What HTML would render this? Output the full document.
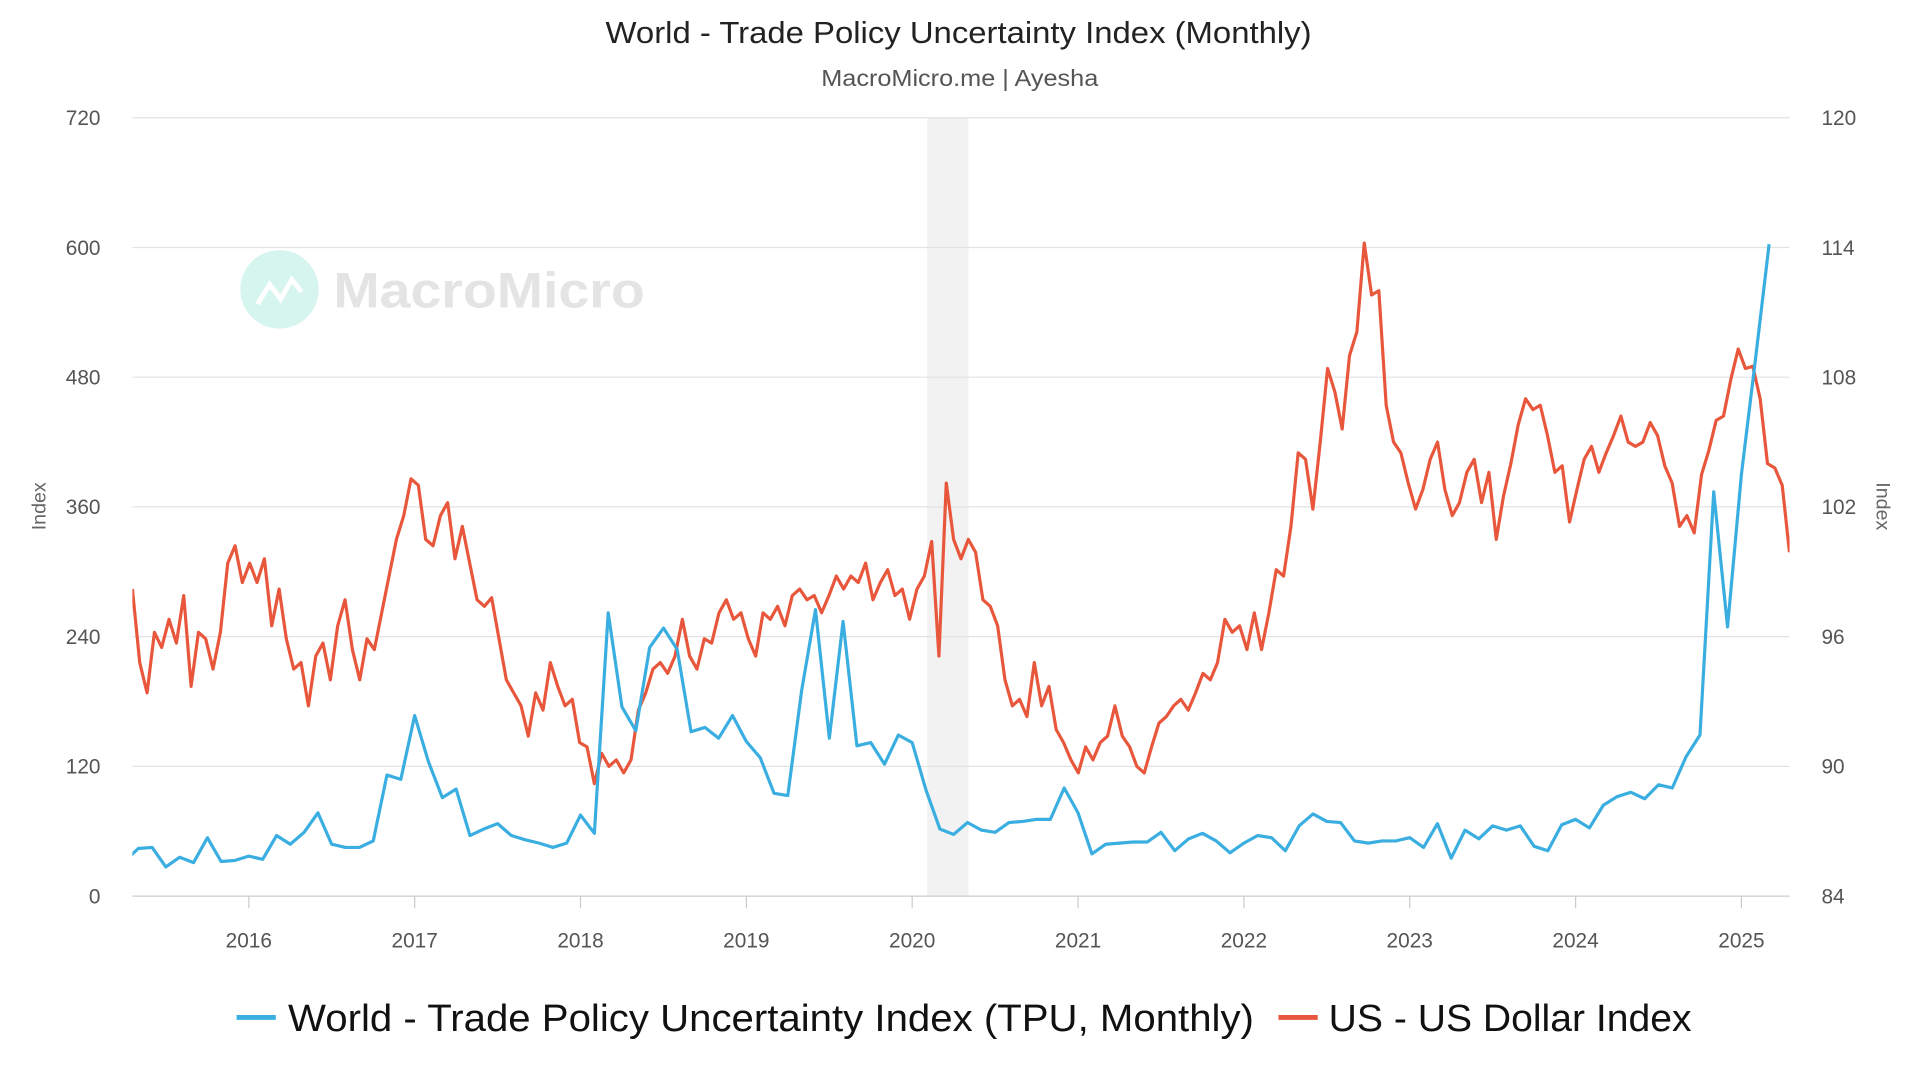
<!DOCTYPE html>
<html><head><meta charset="utf-8"><style>
html,body{margin:0;padding:0;background:#fff;}
svg{display:block;font-family:"Liberation Sans",sans-serif;}
</style></head><body>
<svg id="chart" width="1920" height="1080" viewBox="0 0 1566.4 881" xmlns="http://www.w3.org/2000/svg">
<text x="782" y="35" text-anchor="middle" font-size="25" fill="#222" textLength="576" lengthAdjust="spacingAndGlyphs">World - Trade Policy Uncertainty Index (Monthly)</text>
<text x="783" y="70" text-anchor="middle" font-size="19" fill="#555" textLength="226" lengthAdjust="spacingAndGlyphs">MacroMicro.me | Ayesha</text>
<g>
<circle cx="228" cy="236" r="32" fill="#d5f5ee"/>
<polyline points="210,248 220,232 229,244 238,228 246,238" fill="none" stroke="#fff" stroke-width="4"/>
<text x="272" y="251" font-size="41" font-weight="bold" fill="#e4e4e4" textLength="254" lengthAdjust="spacingAndGlyphs">MacroMicro</text>
</g>
<g id="grid"></g>
<g id="axes"></g>
<defs><clipPath id="clip"><rect x="108" y="80" width="1352" height="660"/></clipPath></defs>
<g id="series" clip-path="url(#clip)"></g>
<text transform="translate(37,413) rotate(-90)" text-anchor="middle" font-size="16" fill="#666">Index</text>
<text transform="translate(1531,413) rotate(90)" text-anchor="middle" font-size="16" fill="#666">Index</text>
<g>
<g>
<line x1="193" y1="830" x2="225" y2="830" stroke="#3aaee0" stroke-width="4"/>
<text x="235" y="841" font-size="31" fill="#111" textLength="788" lengthAdjust="spacingAndGlyphs">World - Trade Policy Uncertainty Index (TPU, Monthly)</text>
</g>
<g>
<line x1="1043" y1="830" x2="1075" y2="830" stroke="#e8573c" stroke-width="4"/>
<text x="1084" y="841" font-size="31" fill="#111" textLength="296" lengthAdjust="spacingAndGlyphs">US - US Dollar Index</text>
</g>
</g>
</svg>
<script>
const leftTicks = [0,120,240,360,480,600,720];
const rightTicks = [84,90,96,102,108,114,120];
const yearTicks = [2016,2017,2018,2019,2020,2021,2022,2023,2024,2025];
const recession = [2020.09, 2020.34];
const tpuStart = 2015.25;
const tpuValues = [32,44,45,27,36,31,54,32,33,
37,34,56,48,59,77,48,45,45,51,112,108,
167,124,91,99,56,62,67,56,52,49,45,49,
75,58,262,175,153,230,248,228,152,156,146,167,
143,128,95,93,190,265,146,254,139,142,122,149,
142,98,62,57,68,61,59,68,69,71,71,100,
77,39,48,49,50,50,59,42,53,58,51,40,
49,56,54,42,65,76,69,68,51,49,51,51,
54,45,67,35,61,53,65,61,65,46,42,66,
71,63,84,92,96,90,103,100,129,149,374,249,
390,495,603];
const dxyStart = 2015.298, dxyEnd = 2025.29;
const dxyValues = [98.2,94.8,93.4,96.2,95.5,96.8,95.7,97.9,93.7,96.2,95.9,94.5,96.2,99.4,100.2,98.5,99.4,98.5,99.6,96.5,98.2,95.9,94.5,94.8,92.8,95.1,95.7,94.0,96.5,97.7,95.4,94.0,95.9,95.4,97.1,98.8,100.5,101.6,103.3,103.0,100.5,100.2,101.6,102.2,99.6,101.1,99.4,97.7,97.4,97.8,95.9,94.0,93.4,92.8,91.4,93.4,92.6,94.8,93.7,92.8,93.1,91.1,90.9,89.2,90.6,90.0,90.3,89.7,90.3,92.6,93.4,94.5,94.8,94.3,95.1,96.8,95.1,94.5,95.9,95.7,97.1,97.7,96.8,97.1,95.9,95.1,97.1,96.8,97.4,96.5,97.9,98.2,97.7,97.9,97.1,97.9,98.8,98.2,98.8,98.5,99.4,97.7,98.5,99.1,97.9,98.2,96.8,98.2,98.8,100.4,95.1,103.1,100.5,99.6,100.5,99.9,97.7,97.4,96.5,94.0,92.8,93.1,92.3,94.8,92.8,93.7,91.7,91.1,90.3,89.7,90.9,90.3,91.1,91.4,92.8,91.4,90.9,90.0,89.7,90.9,92.0,92.3,92.8,93.1,92.6,93.4,94.3,94.0,94.8,96.8,96.2,96.5,95.4,97.1,95.4,97.1,99.1,98.8,101.1,104.5,104.2,101.9,105.0,108.4,107.3,105.6,109.0,110.1,114.2,111.8,112.0,106.7,105.0,104.5,103.1,101.9,102.8,104.2,105.0,102.8,101.6,102.2,103.6,104.2,102.2,103.6,100.5,102.5,104.0,105.8,107.0,106.5,106.7,105.3,103.6,103.9,101.3,102.8,104.2,104.8,103.6,104.5,105.3,106.2,105.0,104.8,105.0,105.9,105.3,103.9,103.1,101.1,101.6,100.8,103.5,104.6,106.0,106.2,107.9,109.3,108.4,108.5,107.0,104.0,103.8,103.0,99.9];

const NS="http://www.w3.org/2000/svg";
const L=108,R=1460,T=96,B=731;
const X=t=>203+(t-2016)*135.3;
const YL=v=>B-(v/720)*(B-T);
const YR=v=>B-((v-84)/36)*(B-T);
function mk(tag,attrs,parent){const e=document.createElementNS(NS,tag);for(const k in attrs)e.setAttribute(k,attrs[k]);parent.appendChild(e);return e;}
const grid=document.getElementById('grid'),axes=document.getElementById('axes'),series=document.getElementById('series');

const rb=mk('rect',{x:X(recession[0]),y:T,width:X(recession[1])-X(recession[0]),height:B-T,fill:'#f2f2f2'},grid);


leftTicks.forEach((v,i)=>{
  const g=mk('line',{x1:L,x2:R,y1:YL(v),y2:YL(v),stroke:i===0?'#cccccc':'#e3e3e3','stroke-width':1},grid);
  
  
  const t=mk('text',{x:82,y:YL(v)+6,'text-anchor':'end','font-size':17,fill:'#555'},axes);t.textContent=v;
  
  
});
rightTicks.forEach(v=>{
  const t=mk('text',{x:1486,y:YR(v)+6,'text-anchor':'start','font-size':17,fill:'#555'},axes);t.textContent=v;
  
  
});
yearTicks.forEach(y=>{
  const tk=mk('line',{x1:X(y),x2:X(y),y1:B,y2:B+10,stroke:'#ccc'},axes);
  
  
  const t=mk('text',{x:X(y),y:773,'text-anchor':'middle','font-size':17,fill:'#555'},axes);t.textContent=y;
  
  
});
const dstep=(dxyEnd-dxyStart)/(dxyValues.length-1);
const dpts=dxyValues.map((v,i)=>X(dxyStart+i*dstep).toFixed(1)+','+YR(v).toFixed(1)).join(' ');
const dl=mk('polyline',{points:dpts,fill:'none',stroke:'#e8573c','stroke-width':2.6,'stroke-linejoin':'round'},series);


const tpts=tpuValues.map((v,i)=>X(tpuStart+i/12).toFixed(1)+','+YL(v).toFixed(1)).join(' ');
const tl=mk('polyline',{points:tpts,fill:'none',stroke:'#3aaee0','stroke-width':2.6,'stroke-linejoin':'round'},series);


</script>
</body></html>
